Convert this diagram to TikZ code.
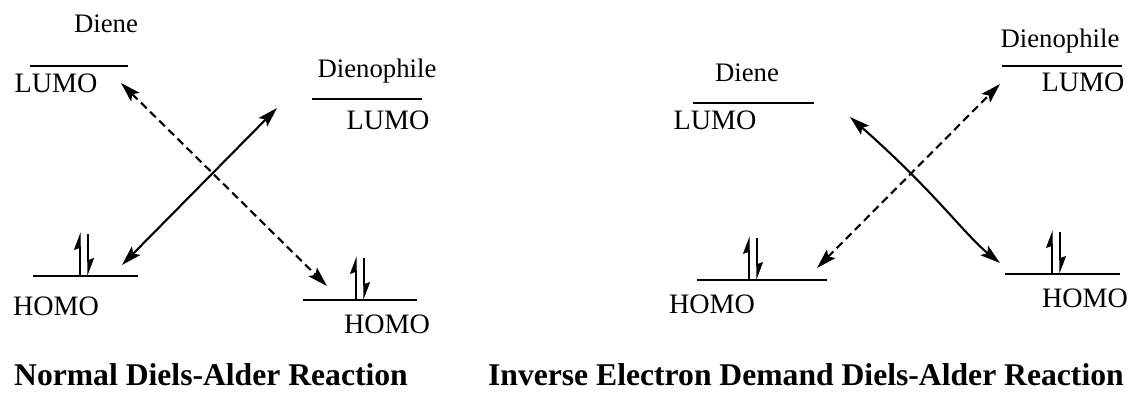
\documentclass[tikz,border=0pt]{standalone}
\usepackage{fontspec}
\setmainfont{Liberation Serif}
\usetikzlibrary{arrows.meta}

\tikzset{
	lbl/.style={anchor=base,inner sep=0pt,font=\fontsize{19}{22}\selectfont},
	orb/.style={anchor=base,inner sep=0pt,font=\fontsize{20}{24}\selectfont},
	ttl/.style={anchor=base,inner sep=0pt,font=\fontsize{22.5}{26}\selectfont\bfseries},
	level/.style={line width=1.3pt},
	xarrow/.style={line width=1.5pt,{Stealth[length=0.5cm,width=0.3cm,inset=0.1cm]}-{Stealth[length=0.5cm,width=0.3cm,inset=0.1cm]}},
	xdash/.style={xarrow,dash pattern=on 0.2cm off 0.12cm},
	spin/.style={line width=1pt,-{Stealth[left,length=0.4cm,width=0.3cm,inset=0.05cm]}}
}

\newcommand{\spinpair}[2]{%
	\draw[spin] (#1-4,#2) -- (#1-4,#2-44);
	\draw[spin] (#1+4,#2-42) -- (#1+4,#2);
}

\begin{document}
\begin{tikzpicture}[x=0.025cm,y=-0.025cm]
\useasboundingbox (0,0) rectangle (1137,394);

% normal demand
\node[lbl] (dieneA) at (106,33) {Diene};
\node[orb] (lumoA) at (56,93) {LUMO};
\node[lbl] (dphA) at (377,78) {Dienophile};
\node[orb] (lumoB) at (388,130) {LUMO};
\node[orb] (homoA) at (56,315) {HOMO};
\node[orb] (homoB) at (387,333) {HOMO};
\node[ttl] (titleA) at (211,385) {Normal Diels-Alder Reaction};

\draw[level] (30,66) -- (128,66);
\draw[level] (312,99) -- (422,99);
\draw[level] (33,276) -- (138,276);
\draw[level] (303,300) -- (417,300);
\spinpair{84}{276}
\spinpair{360}{300}

\coordinate (aL1) at (121,83);
\coordinate (aL2) at (327,286);
\coordinate (aL3) at (122,265);
\coordinate (aL4) at (277,108);
\draw[xdash] (aL1) -- (aL2);
\draw[xarrow] (aL3) -- (aL4);

% inverse electron demand
\node[lbl] (dieneB) at (747,82) {Diene};
\node[orb] (lumoC) at (715,130) {LUMO};
\node[lbl] (dphB) at (1060,48) {Dienophile};
\node[orb] (lumoD) at (1083,92) {LUMO};
\node[orb] (homoC) at (712,313) {HOMO};
\node[orb] (homoD) at (1085,307) {HOMO};
\node[ttl,anchor=base east] (titleB) at (1124,385) {Inverse Electron Demand Diels-Alder Reaction};

\draw[level] (693,103) -- (814,103);
\draw[level] (1002,66) -- (1122,66);
\draw[level] (697,280) -- (827,280);
\draw[level] (1005,274) -- (1120,274);
\spinpair{753}{280}
\spinpair{1056}{274}

\coordinate (aR1) at (817,268);
\coordinate (aR2) at (1000,84);
\coordinate (aR3) at (850,117);
\coordinate (aR4) at (1000,263);
\draw[xdash] (aR1) -- (aR2);
\draw[xarrow] (aR3) .. controls (935,192) and (965,235) .. (aR4);
\end{tikzpicture}
\end{document}
